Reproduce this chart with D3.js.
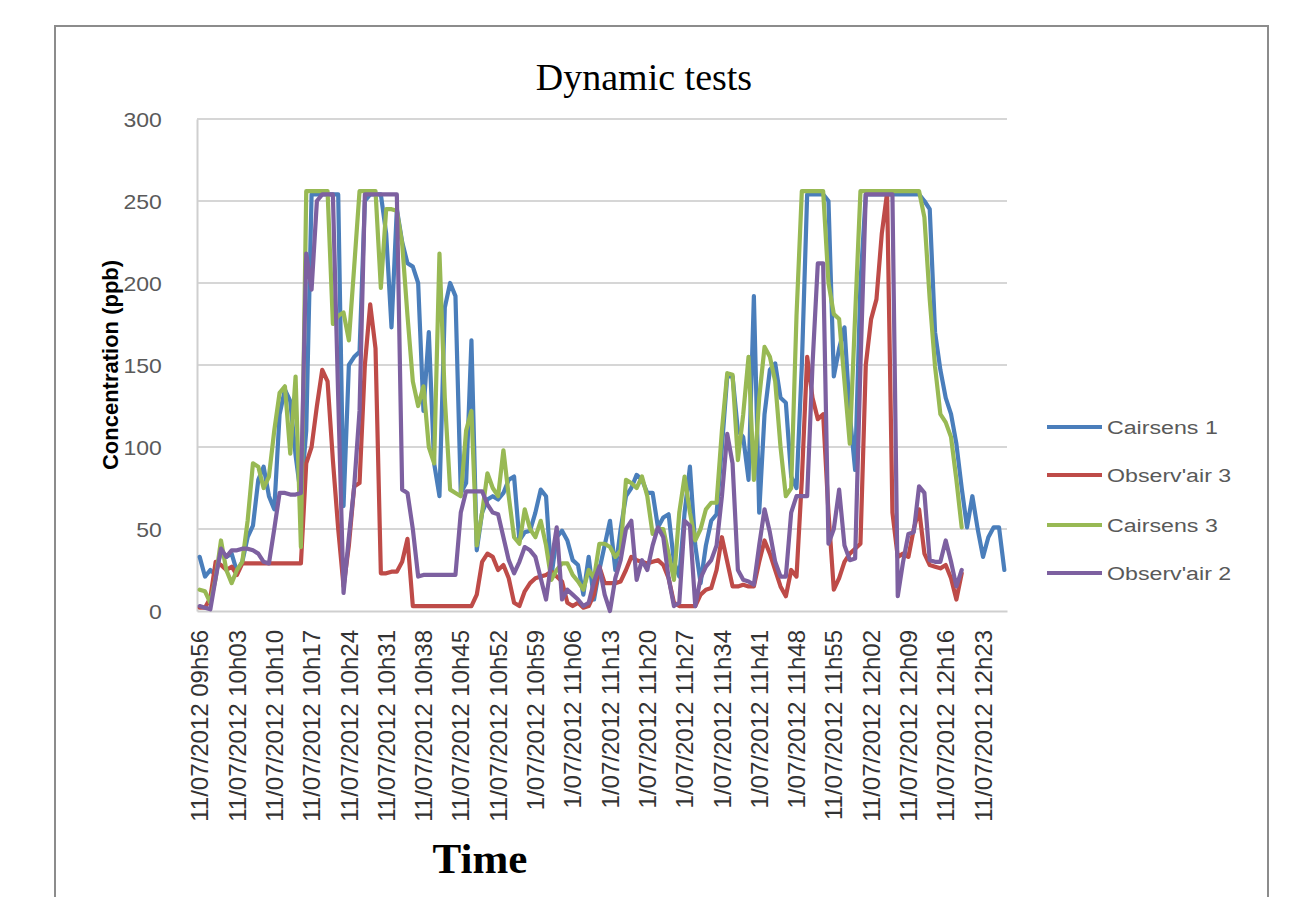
<!DOCTYPE html>
<html><head><meta charset="utf-8">
<script src="https://cdn.jsdelivr.net/npm/d3@7"></script>
<style>html,body{margin:0;padding:0;background:#fff;}svg{display:block;}</style>
</head><body>
<svg id="chart" width="1291" height="897"></svg>
<script>
const seriesNames = ["Cairsens 1", "Observ'air 3", "Cairsens 3", "Observ'air 2"];
const seriesColors = ["#4A7EBB", "#BE4B48", "#98B954", "#7D60A0"];

// 1-minute categories starting 11/07/2012 09h56
const startMinute = 9 * 60 + 56;
const categoryCount = 152;

const tickLabels = [
  "11/07/2012 09h56","11/07/2012 10h03","11/07/2012 10h10","11/07/2012 10h17",
  "11/07/2012 10h24","11/07/2012 10h31","11/07/2012 10h38","11/07/2012 10h45",
  "11/07/2012 10h52","1/07/2012 10h59","1/07/2012 11h06","1/07/2012 11h13",
  "1/07/2012 11h20","1/07/2012 11h27","1/07/2012 11h34","1/07/2012 11h41",
  "1/07/2012 11h48","11/07/2012 11h55","11/07/2012 12h02","11/07/2012 12h09",
  "11/07/2012 12h16","11/07/2012 12h23"
];
const yTicks = [0, 50, 100, 150, 200, 250, 300];

const cairsens1 = [
  33,21,25,22,37,33,35,24,30,45,
  52,80,88,70,62,120,135,128,95,70,
  110,254,254,254,254,254,254,64,150,155,
  158,250,254,254,254,230,173,245,225,212,
  210,200,122,170,90,70,185,200,192,72,
  78,165,37,60,68,70,68,72,80,82,
  43,48,49,60,74,70,21,45,49,43,
  31,28,10,33,7,25,40,55,25,50,
  70,75,83,80,72,72,51,57,59,30,
  21,60,88,40,17,40,55,59,100,143,
  143,110,106,80,192,60,120,147,151,130,
  127,82,75,150,254,254,254,254,250,143,
  160,173,120,86,200,254,254,254,254,254,
  254,254,254,254,254,254,250,245,170,147,
  130,120,102,75,51,70,50,33,45,51,51,25
];
const observair3 = [
  2,2,8,30,28,25,27,22,29,29,
  29,29,29,29,29,29,29,29,29,29,
  90,100,125,147,140,92,50,15,40,76,
  78,150,187,160,23,23,24,24,30,44,
  3,3,3,3,3,3,3,3,3,3,
  3,3,10,30,35,33,25,28,20,5,
  3,12,17,20,21,22,24,21,18,5,
  3,5,2,3,10,27,17,17,17,18,
  25,33,31,30,29,30,31,28,20,5,
  3,3,3,3,10,13,14,25,45,30,
  15,15,16,15,15,30,43,35,25,15,
  9,25,21,80,155,130,117,120,60,13,
  20,30,35,38,41,150,178,190,230,255,
  60,33,35,33,50,62,35,28,27,26,
  28,20,7,23
];
const cairsens3 = [
  13,12,5,20,43,25,17,25,30,55,
  90,88,75,82,110,133,137,96,143,39,
  256,256,256,256,256,175,180,182,165,210,
  256,256,256,256,197,245,245,244,224,180,
  140,125,137,100,90,218,130,74,72,70,
  110,122,40,60,84,75,70,98,70,45,
  41,62,50,45,55,40,19,25,29,29,
  22,18,13,25,20,41,41,39,33,37,
  80,78,75,82,70,47,50,50,35,19,
  60,82,60,43,50,62,66,66,110,145,
  144,92,120,155,80,130,161,155,140,100,
  70,75,180,256,256,256,256,256,200,181,
  178,140,102,180,256,256,256,256,256,256,
  256,256,256,256,256,256,240,190,149,120,
  115,106,80,51
];
const observair2 = [
  3,2,1,20,38,33,37,37,38,38,
  37,35,30,29,50,72,72,71,71,72,
  218,196,250,254,254,254,130,11,45,76,
  122,254,254,254,254,254,254,254,74,72,
  50,21,22,22,22,22,22,22,22,60,
  73,73,73,73,65,60,59,45,31,23,
  30,39,37,33,20,7,30,51,7,13,
  10,7,3,5,18,27,10,0,20,31,
  50,55,19,31,25,40,51,45,20,3,
  5,55,52,3,20,27,31,40,70,108,
  90,25,19,18,16,40,62,48,30,21,
  21,60,70,70,70,150,212,212,41,50,
  74,40,31,32,150,254,254,254,254,254,
  254,9,30,47,48,76,72,31,30,30,
  43,30,15,25
];
const seriesValues = [cairsens1, observair3, cairsens3, observair2];

function minuteLabel(m) {
  const h = Math.floor(m / 60), mm = m % 60;
  return "11/07/2012 " + String(h).padStart(2, "0") + "h" + String(mm).padStart(2, "0");
}
const categories = d3.range(categoryCount).map(i => minuteLabel(startMinute + i));

const svg = d3.select("#chart");

// outer frame
svg.append("rect").attr("x", 55).attr("y", 26).attr("width", 1213).attr("height", 900)
  .attr("fill", "none").attr("stroke", "#8c8c8c").attr("stroke-width", 2);

const plot = {left: 197, right: 1007, top: 119, bottom: 611};
const x = d3.scaleBand().domain(categories).range([plot.left, plot.right]).padding(0);
const y = d3.scaleLinear().domain([0, 300]).range([plot.bottom, plot.top]);
const cx = i => x(categories[i]) + x.bandwidth() / 2;

// grid
svg.append("g").selectAll("line").data(yTicks.filter(t => t > 0)).join("line")
  .attr("x1", plot.left).attr("x2", plot.right)
  .attr("y1", d => y(d)).attr("y2", d => y(d))
  .attr("stroke", "#d6d6d6").attr("stroke-width", 2);

// y axis
const yAxis = svg.append("g").attr("transform", `translate(${plot.left},0)`)
  .call(d3.axisLeft(y).tickValues(yTicks).tickSize(0).tickPadding(27));
yAxis.select(".domain").attr("stroke", "#cfcfcf").attr("stroke-width", 2);
yAxis.selectAll("text")
  .attr("font-family", "Liberation Sans, Arial, sans-serif").attr("font-size", 20)
  .attr("fill", "#5a5a5a").attr("dy", "0.36em")
  .attr("transform", function() { const tx = +this.getAttribute("x"); return `translate(${tx*0.15},0) scale(1.15,1)`; });

// x axis
const tickIdx = tickLabels.map((_, k) => k * 7);
const xAxis = svg.append("g").attr("transform", `translate(0,${plot.bottom})`)
  .call(d3.axisBottom(x).tickValues(tickIdx.map(i => categories[i]))
    .tickFormat((d, k) => tickLabels[k]).tickSize(0).tickPadding(0));
xAxis.select(".domain").attr("stroke", "#cfcfcf").attr("stroke-width", 2);
xAxis.selectAll("text")
  .attr("font-family", "Liberation Sans, Arial, sans-serif").attr("font-size", 24)
  .attr("fill", "#333").attr("text-anchor", "end")
  .attr("transform", "translate(0,19) rotate(-90)")
  .attr("x", 0).attr("y", 0).attr("dy", "0.36em");

// lines
const line = d3.line().x((d, i) => cx(i)).y(d => y(d)).curve(d3.curveLinear);
seriesValues.forEach((vals, s) => {
  svg.append("path").datum(vals).attr("d", line)
    .attr("fill", "none").attr("stroke", seriesColors[s])
    .attr("stroke-width", 4.2).attr("stroke-linejoin", "round").attr("stroke-linecap", "round");
});

// title
svg.append("text").attr("x", 644).attr("y", 90).attr("text-anchor", "middle")
  .attr("font-family", "Liberation Serif, Times New Roman, serif").attr("font-size", 38)
  .attr("fill", "#000").text("Dynamic tests");

// y title
svg.append("text").attr("transform", "translate(110,365) rotate(-90)")
  .attr("text-anchor", "middle").attr("dy", "0.36em")
  .attr("font-family", "Liberation Sans, Arial, sans-serif").attr("font-weight", "bold")
  .attr("font-size", 22).attr("fill", "#000").text("Concentration (ppb)");

// x title
svg.append("text").attr("x", 480).attr("y", 873).attr("text-anchor", "middle")
  .attr("font-family", "Liberation Serif, Times New Roman, serif").attr("font-weight", "bold")
  .attr("font-size", 43).attr("fill", "#000").text("Time");

// legend
const legendY = [427, 475, 525, 573];
const lg = svg.append("g");
seriesNames.forEach((name, s) => {
  lg.append("line").attr("x1", 1047).attr("x2", 1102).attr("y1", legendY[s]).attr("y2", legendY[s])
    .attr("stroke", seriesColors[s]).attr("stroke-width", 4.2);
  lg.append("text").attr("transform", `translate(1107,${legendY[s]}) scale(1.22,1)`)
    .attr("dy", "0.36em").attr("font-family", "Liberation Sans, Arial, sans-serif")
    .attr("font-size", 19).attr("fill", "#595959").text(name);
});
</script>
</body></html>
